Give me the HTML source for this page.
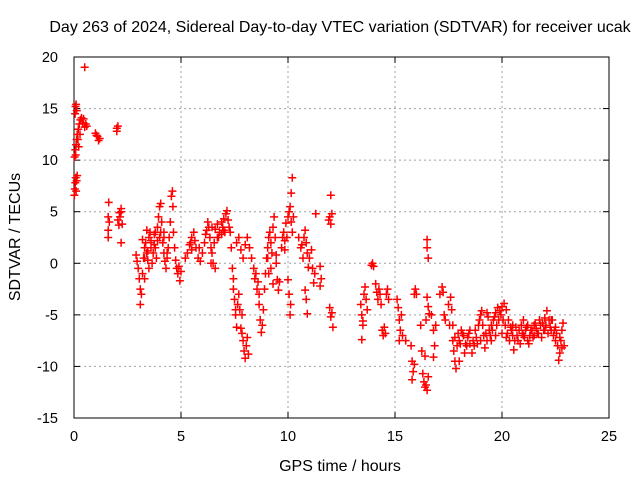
<!DOCTYPE html>
<html><head><meta charset="utf-8"><style>
html,body{margin:0;padding:0;background:#fff;}
svg{display:block;font-family:"Liberation Sans",sans-serif;}
</style></head><body>
<svg id="chart" width="640" height="480" viewBox="0 0 640 480" xmlns="http://www.w3.org/2000/svg">
<rect width="640" height="480" fill="#fff"/>
<text x="340" y="32" font-size="16" text-anchor="middle" fill="#000">Day 263 of 2024, Sidereal Day-to-day VTEC variation (SDTVAR) for receiver ucak</text>
<text x="340" y="471" font-size="16" text-anchor="middle" fill="#000">GPS time / hours</text>
<text x="0" y="0" font-size="16" text-anchor="middle" fill="#000" transform="translate(20,237) rotate(-90)">SDTVAR / TECUs</text>
<g id="grid"></g>
<g id="axes"></g>
<g id="points"></g>
</svg>
<script>
const xTicks=[0,5,10,15,20,25];
const yTicks=[-15,-10,-5,0,5,10,15,20];
const hours=[0.02,0.04,0.06,0.08,0.1,0.12,0.15,0.03,0.06,0.08,0.1,0.12,0.05,0.07,0.1,0.13,0.15,0.18,0.2,0.25,0.3,0.35,0.4,0.45,0.5,0.55,0.6,0.5,0.22,0.28,
1.0,1.1,1.15,1.2,1.05,2.0,2.05,2.0,1.6,1.6,1.6,1.62,1.65,2.05,2.1,2.15,2.2,2.2,2.25,2.2,2.12,
2.9,2.95,3.0,3.05,3.1,3.1,3.15,3.2,3.25,3.3,3.35,3.4,3.45,3.5,3.55,3.6,3.65,3.7,3.75,3.8,3.85,3.9,3.95,4.0,4.05,4.1,4.15,4.2,4.25,4.3,4.35,4.4,4.45,4.5,4.55,4.6,4.62,4.65,4.7,4.75,4.8,4.85,4.9,4.95,5.0,3.3,3.5,3.8,4.0,4.2,3.2,3.4,3.6,
5.2,5.3,5.4,5.5,5.5,5.6,5.7,5.8,5.9,6.0,
6.1,6.2,6.25,6.3,6.35,6.4,6.45,6.5,6.55,6.6,6.7,6.8,6.9,7.0,7.1,7.15,7.2,7.25,7.3,6.7,6.9,7.0,6.6,6.4,
7.35,7.4,7.45,7.5,7.55,7.6,7.65,7.7,7.75,7.8,7.85,7.9,7.95,8.0,8.05,8.1,8.15,7.6,7.7,7.8,7.9,8.0,8.1,8.2,8.3,8.4,
8.5,8.55,8.6,8.65,8.7,8.75,8.8,8.85,8.9,8.95,9.0,9.05,9.1,9.15,9.2,9.25,9.3,9.35,9.4,9.45,9.5,9.55,9.6,9.2,9.3,9.1,
9.7,9.75,9.8,9.85,9.9,9.95,10.0,10.05,10.1,10.15,10.2,10.15,10.2,10.0,10.05,10.1,10.12,
10.5,10.6,10.7,10.8,10.85,10.9,10.95,10.8,10.85,10.9,11.0,11.1,11.15,11.2,11.25,11.3,11.5,11.55,11.5,
11.9,11.95,12.0,12.05,12.0,11.95,12.0,12.05,12.1,
13.4,13.45,13.5,13.45,13.5,13.55,13.6,13.65,13.7,13.9,13.95,14.0,14.1,14.15,14.2,14.25,14.3,14.35,14.4,14.45,14.5,14.55,14.6,14.65,14.7,
15.1,15.15,15.2,15.25,15.2,15.3,15.35,15.5,15.75,15.8,15.85,15.8,15.9,15.9,15.95,16.0,
16.2,16.25,16.3,16.35,16.4,16.45,16.5,16.55,16.4,16.5,16.5,16.55,16.5,16.55,16.6,16.45,16.7,16.8,16.85,16.8,16.9,
17.1,17.2,17.25,17.35,17.5,17.6,17.65,17.7,17.7,17.75,17.8,17.85,17.9,17.95,18.0,18.1,18.2,18.25,18.3,18.4,18.5,18.6,18.7,18.8,18.9,19.0,19.05,19.1,19.15,19.2,19.3,19.4,19.5,19.6,19.7,19.8,19.85,19.9,20.0,20.1,20.2,20.3,20.4,20.5,20.55,20.6,20.7,20.8,20.9,21.0,21.1,21.2,21.3,21.4,21.5,21.6,21.7,21.8,21.9,22.0,22.1,22.2,22.3,22.4,22.5,22.6,22.65,22.7,22.75,22.8,22.85,22.9,
18.5,19.0,19.5,20.0,20.5,21,21.5,22,22.5,18,19.3,20.2,21.2,22.3,19.7,
3.3,3.45,3.6,3.75,3.9,4.05,4.2,4.35,5.45,5.65,5.85,6.15,6.45,6.75,6.95,7.05,7.45,7.55,7.85,8.45,8.65,9.05,9.45,9.85,10.25,10.65,10.75,
17.3,17.55,17.8,18.05,18.15,18.35,18.45,18.65,18.75,18.85,18.95,19.25,19.35,19.45,19.55,19.65,19.75,19.95,20.05,20.15,20.25,20.35,20.45,20.65,20.75,20.85,20.95,21.05,21.15,21.25,21.35,21.45,21.55,21.65,21.75,21.85,21.95,22.05,22.15,22.25,22.35,22.45,22.55,22.7,22.8];
const sdtvar=[6.6,7.2,7.8,8.3,7.0,8.0,8.5,10.3,11,10.5,11.5,12,14.5,15.2,15.4,14.8,12.5,12,13,13.5,13.9,14.1,13.6,14,13.2,13.5,13.3,19,11.3,12.5,
12.6,12.3,11.9,12.1,12.4,12.8,13.3,13.1,2.5,3.2,4.5,5.9,4,4.2,3.7,4.5,5.3,5.0,3.8,2.0,4.9,
0.8,0.2,-0.5,-1.5,-2.5,-4,-3,-1,0.5,1.5,2,1,0.3,2.5,3,1.5,0,1,2.8,1.5,0.5,3.5,4.5,5.5,5.8,4,2,1,0.2,-0.5,0.5,1.5,2.5,4,6.5,7,5.5,3,1.5,0.3,-0.5,-1,-0.3,-1.7,-0.8,-1.5,-0.5,3,2.5,3,2.3,3.2,2.2,
0.5,1.0,1.8,2.5,1.3,3,1.5,0.5,0.2,1.0,
2,3.2,4,3.5,2.5,1.5,1.0,0.0,2,3.3,3.8,3,4,4.3,4.8,5.1,4.2,3.5,3,2.5,2.8,3.2,-0.5,0,
1.5,-0.5,-2.5,-3.5,-5,-6.2,-4,-3,-4.5,-6.3,-5,-7.5,-8.5,-9.2,-8,-7.2,-8.8,2.0,2.5,1.3,0.5,1.8,2.5,1.5,0.5,-0.5,
-1,-2.5,-1.8,-4,-5.5,-6.7,-6,-4.5,-2.5,-1,0.5,1.5,2.5,3,2,1,3.5,4.5,2.5,0,-1.6,-2.6,-1.8,-0.5,-2,-1.0,
1.5,2.5,3,1.3,3.9,2.5,4.5,5,5.5,4,3,6.8,8.3,-1.6,-3,-5,-4,
2.5,1.5,0.5,3.2,2,1,-0.4,-2.6,-3.5,-4.9,0.5,1.3,-0.5,-1.9,-1,4.8,-0.3,-1.5,-2.2,
4.2,4.5,3.8,4.8,6.6,-4.3,-5.2,-4.8,-6.2,
-4,-5,-5.6,-7.4,-6,-3,-2.3,-3.5,-4.5,-0.2,0,-0.3,-2,-2.8,-3.5,-2.5,-3,-4,-6.5,-7,-6.2,-6.8,-3,-2.5,-3.5,
-3.5,-4.3,-5.5,-6.5,-7.5,-5,-7,-7.5,-8,-9.5,-10.5,-11.3,-9.8,-3,-2.5,-3,
-6,-8.5,-10.7,-11.5,-12,-11.8,-12.3,-11,-9,2.3,1.5,0.5,-3.3,-4.2,-4.9,-5.5,-5,-6.5,-8,-9.1,-6,
-3,-2.3,-2.8,-5.5,-4,-3.3,-4.5,-6,-7.5,-8.5,-9.5,-10.2,-8,-6.8,-7.5,-6.5,-7,-8.7,-7.8,-7.2,-7.8,-8.7,-8,-7.2,-6,-5,-4.6,-6,-7,-8.2,-7.5,-6.5,-6,-5.5,-4.8,-4.3,-5.5,-4.6,-4.2,-3.9,-4.5,-5.5,-6.2,-7,-8.4,-7.5,-7,-6.5,-6,-5.5,-6.5,-7.5,-7,-6.5,-6,-6.3,-6.8,-6,-5.8,-5.3,-4.6,-5.5,-6.5,-7,-7.5,-8,-9.4,-8.7,-7.5,-6.5,-5.8,-8,
-6.5,-7.5,-7.5,-6.8,-6,-7,-7,-6.5,-6.2,-9.5,-4.8,-7.2,-6,-5.5,-7,
0.5,1.2,2.0,1.8,2.2,3.0,2.5,1.0,2.0,2.2,1.5,2.8,3.5,2.5,3.5,3.0,-1.5,-4.5,-6.8,-1.5,-3,0.5,0.8,2.2,4.5,1.8,2.5,
-5,-6,-7.2,-7.8,-6.8,-8,-6.8,-7.5,-6.5,-7.8,-5.5,-6.8,-5.2,-7,-6.5,-5.2,-6,-5,-5.5,-6,-6.8,-7.5,-6.5,-6.2,-7.5,-7.8,-6.8,-7.2,-6.2,-7.8,-6.5,-7.2,-5.8,-6.8,-5.5,-7.2,-6.5,-6,-6.8,-6.2,-5.5,-6.5,-6.8,-7.2,-8.2];
const X0=74,X1=609,Y0=418,Y1=57;
const xs=v=>X0+(v-0)/(25-0)*(X1-X0);
const ys=v=>Y0-(v+15)/(35)*(Y0-Y1);
const NS="http://www.w3.org/2000/svg";
function mk(tag,attrs,parent){const e=document.createElementNS(NS,tag);for(const k in attrs)e.setAttribute(k,attrs[k]);parent.appendChild(e);return e;}
const grid=document.getElementById('grid'),axes=document.getElementById('axes'),pts=document.getElementById('points');
xTicks.forEach(t=>{const x=xs(t);
 if(t>0&&t<25){const g=mk('line',{x1:x,y1:Y0,x2:x,y2:Y1,stroke:'#a0a0a0','stroke-dasharray':'2,3','stroke-width':1},grid);
 
 }
 mk('line',{x1:x,y1:Y0,x2:x,y2:Y0-6,stroke:'#000'},axes);
 mk('line',{x1:x,y1:Y1,x2:x,y2:Y1+6,stroke:'#000'},axes);
 const tl=mk('text',{x:x,y:Y0+23,'font-size':14.5,'text-anchor':'middle',fill:'#000'},axes);tl.textContent=t;
 
 });
yTicks.forEach(t=>{const y=ys(t);
 if(t>-15&&t<20){const g=mk('line',{x1:X0,y1:y,x2:X1,y2:y,stroke:'#a0a0a0','stroke-dasharray':'2,3','stroke-width':1},grid);
 
 }
 mk('line',{x1:X0,y1:y,x2:X0+6,y2:y,stroke:'#000'},axes);
 mk('line',{x1:X1,y1:y,x2:X1-6,y2:y,stroke:'#000'},axes);
 const tl=mk('text',{x:X0-16,y:y+5,'font-size':14.5,'text-anchor':'end',fill:'#000'},axes);tl.textContent=t;
 
 });
const fr=mk('rect',{x:X0,y:Y1,width:X1-X0,height:Y0-Y1,fill:'none',stroke:'#000','stroke-width':1},axes);


let d='';
for(let i=0;i<hours.length;i++){const x=xs(hours[i]),y=ys(sdtvar[i]);
 d+=`M${(x-4).toFixed(1)} ${y.toFixed(1)}h8M${x.toFixed(1)} ${(y-4).toFixed(1)}v8`;}
const p=mk('path',{d:d,stroke:'#ff0000','stroke-width':1.5,fill:'none'},pts);


</script>
</body></html>
